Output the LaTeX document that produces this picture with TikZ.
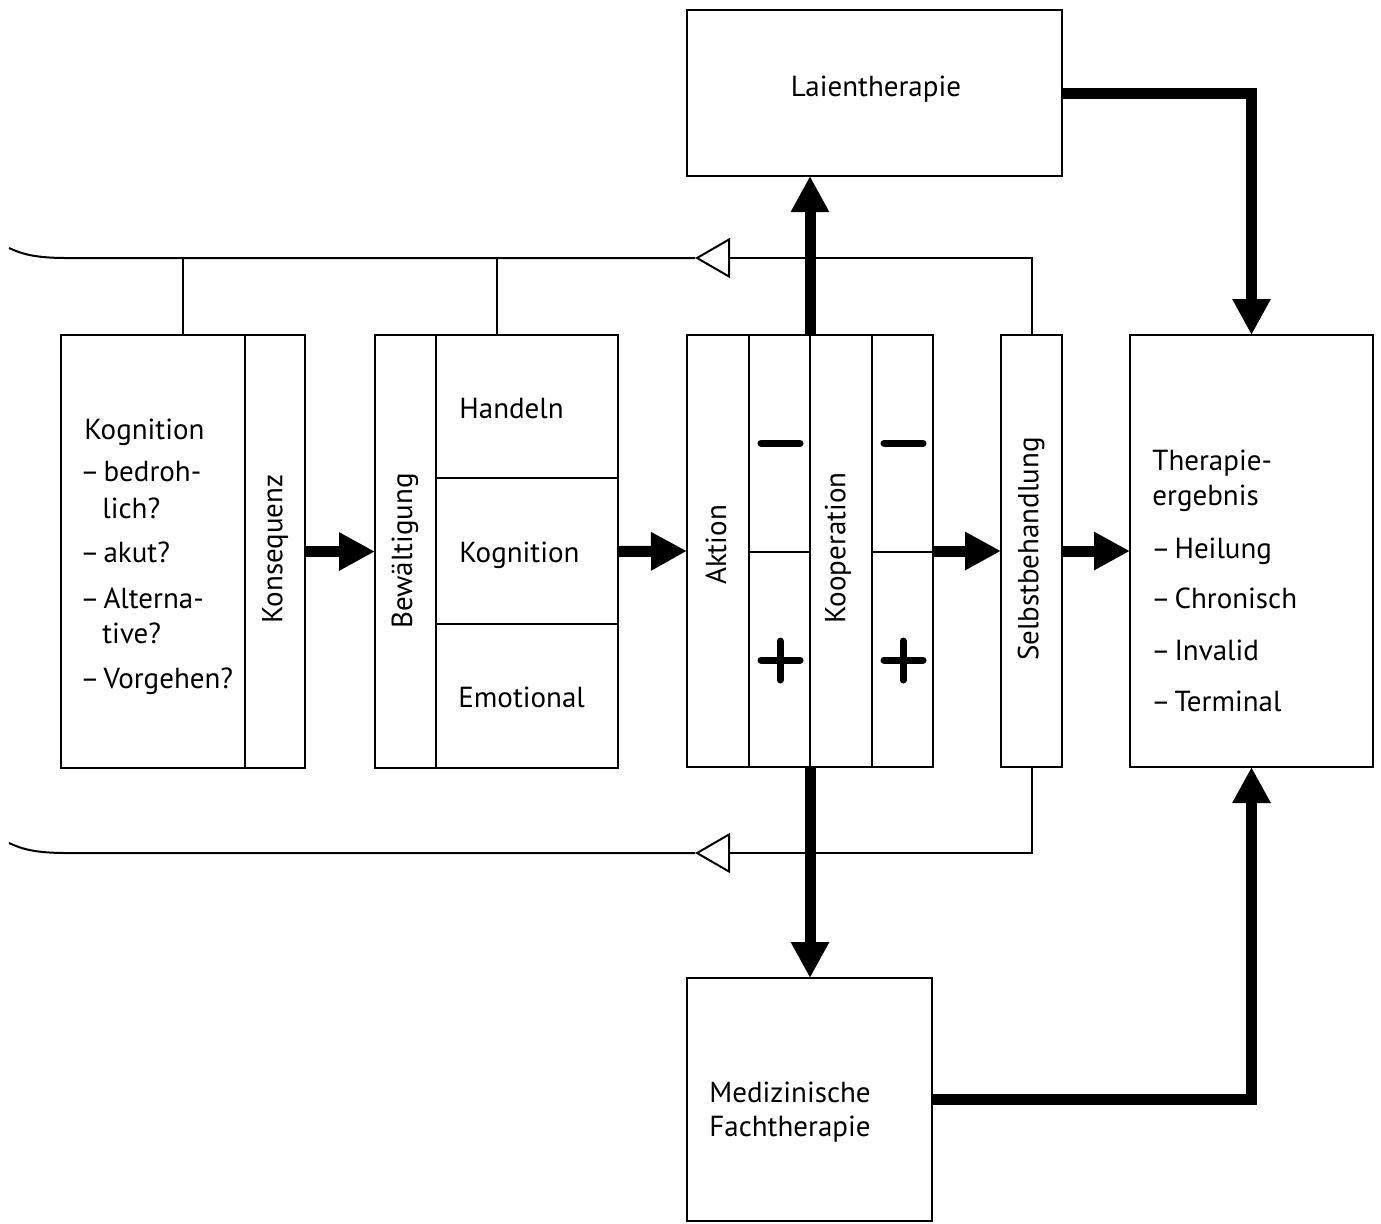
\documentclass[tikz,border=0pt]{standalone}
\usepackage{fontspec}
\setmainfont{PT Sans}
\usetikzlibrary{arrows.meta,fit}
\begin{document}
\begin{tikzpicture}[x=0.5pt,y=-0.5pt,
  thin/.style={line width=1pt},
  box/.style={draw,line width=1pt,inner sep=0pt,outer sep=0pt},
  lbl/.style={font=\fontsize{14.5}{17}\selectfont,inner sep=0pt},
  tl/.style={lbl,anchor=base west},
  vlbl/.style={lbl,rotate=90},
  fat/.style={line width=5.5pt,line join=miter},
  fatarrow/.style={fat,-{Triangle[length=18pt,width=18pt]}},
  fb/.style={thin,-{Triangle[open,length=17.5pt,width=20pt]}},
  sign/.style={line width=3.5pt,line cap=round}
]
\useasboundingbox (0,0) rectangle (1381,1223);

% boxes
\node[box,fit={(687,10)(1062,176)}] (lai) {};
\node[lbl] (laiT) at (876,89) {Laientherapie};

\node[box,fit={(61,335)(305,768)}] (b1) {};
\draw[thin] (245,335) -- (245,768);
\node[tl] (k0) at (84,439) {Kognition};
\node[tl] (k1) at (80,481) {\textendash\hspace{2pt}bedroh-};
\node[tl] (k1b) at (102,518) {lich?};
\node[tl] (k2) at (80,562) {\textendash\hspace{2pt}akut?};
\node[tl] (k3) at (80,608) {\textendash\hspace{2pt}Alterna-};
\node[tl] (k3b) at (102,643) {tive?};
\node[tl] (k4) at (80,688) {\textendash\hspace{2pt}Vorgehen?};
\node[vlbl] (kons) at (275,549) {Konsequenz};

\node[box,fit={(375,335)(618,768)}] (b2) {};
\draw[thin] (436,335) -- (436,768) (436,478) -- (618,478) (436,624) -- (618,624);
\node[vlbl] (bew) at (405,551) {Bewältigung};
\node[tl] (hand) at (459,418) {Handeln};
\node[tl] (kog) at (459,562) {Kognition};
\node[tl] (emo) at (458,707) {Emotional};

\node[box,fit={(687,335)(933,767)}] (b3) {};
\draw[thin] (749,335) -- (749,767) (810,335) -- (810,767) (872,335) -- (872,767)
  (749,552) -- (810,552) (872,552) -- (933,552);
\node[vlbl] (akt) at (716,545) {Aktion};
\node[vlbl] (koop) at (838,548) {Kooperation};
\draw[sign] (761,443) -- (800,443);
\draw[sign] (884,443) -- (923,443);
\draw[sign] (761,660) -- (800,660) (780,641) -- (780,680);
\draw[sign] (884,660) -- (923,660) (903,641) -- (903,680);

\node[box,fit={(1001,335)(1062,767)}] (sb) {};
\node[vlbl] (sbT) at (1031,549) {Selbstbehandlung};

\node[box,fit={(1130,335)(1373,767)}] (res) {};
\node[tl] (r0) at (1152,470) {Therapie-};
\node[tl] (r1) at (1152,505) {ergebnis};
\node[tl] (r2) at (1151,558) {\textendash\hspace{2pt}Heilung};
\node[tl] (r3) at (1151,608) {\textendash\hspace{2pt}Chronisch};
\node[tl] (r4) at (1151,660) {\textendash\hspace{2pt}Invalid};
\node[tl] (r5) at (1151,711) {\textendash\hspace{2pt}Terminal};

\node[box,fit={(687,978)(932,1221)}] (med) {};
\node[tl] (m1) at (709,1102) {Medizinische};
\node[tl] (m2) at (709,1136) {Fachtherapie};

% feedback lines
\coordinate (ttip) at (695,258);
\coordinate (tend) at (9,248);
\draw[fb] (sb.north) |- (ttip);
\draw[thin] (ttip) -- (67,258) .. controls (35,258) and (22,254) .. (tend);
\draw[thin] (b1.north) -- (b1.north |- ttip);
\draw[thin] (b2.north) -- (b2.north |- ttip);
\coordinate (btip) at (695,853);
\coordinate (bend) at (9,843);
\draw[fb] (sb.south) |- (btip);
\draw[thin] (btip) -- (67,853) .. controls (35,853) and (22,849) .. (bend);

% thick arrows
\draw[fatarrow] (b1.east) -- (b2.west);
\draw[fatarrow] (b2.east) -- (b3.west);
\draw[fatarrow] (b3.east) -- (sb.west);
\draw[fatarrow] (sb.east) -- (res.west);
\draw[fatarrow] (b3.north) -- (b3.north |- lai.south);
\draw[fatarrow] (b3.south) -- (b3.south |- med.north);
\draw[fatarrow] (lai.east) -| (res.north);
\draw[fatarrow] (med.east) -| (res.south);
\end{tikzpicture}
\end{document}
